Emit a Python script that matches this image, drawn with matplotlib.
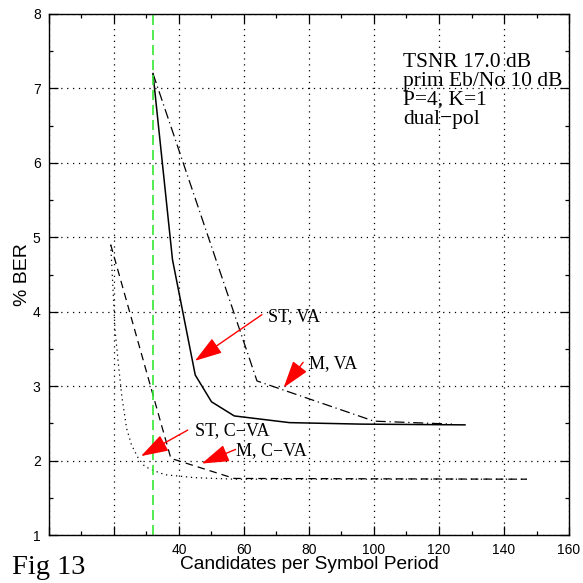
import matplotlib
matplotlib.use("Agg")
import matplotlib.pyplot as plt
from matplotlib.ticker import MultipleLocator

# ---- data ----
st_va_x = [32, 38, 45, 50, 57, 74, 96, 128]
st_va_y = [7.2, 4.7, 3.15, 2.79, 2.6, 2.51, 2.49, 2.48]

m_va_x = [32, 64, 100, 124]
m_va_y = [7.2, 3.07, 2.53, 2.49]

m_cva_x = [19, 37.5, 57, 147]
m_cva_y = [4.9, 2.03, 1.76, 1.75]

st_cva_x = [19, 19.8, 20.3, 21.3, 22.4, 23.9, 25.4, 27.5, 29.5, 32.6, 35.7, 45, 57, 147]
st_cva_y = [4.9, 4.22, 3.77, 3.32, 2.87, 2.43, 2.21, 2.03, 1.92, 1.86, 1.81, 1.77, 1.75, 1.75]

ref_x = 32

x_ticks = [0, 20, 40, 60, 80, 100, 120, 140, 160]
x_tick_labels = ["", "", "40", "60", "80", "100", "120", "140", "160"]
y_ticks = [1, 2, 3, 4, 5, 6, 7, 8]
y_tick_labels = ["1", "2", "3", "4", "5", "6", "7", "8"]

info_lines = ["TSNR 17.0 dB", "prim Eb/No 10 dB", "P=4, K=1", "dual\u2212pol"]

# annotations: label, text position, arrow tail, arrow tip
ann_labels = ["ST, VA", "M, VA", "ST, C\u2212VA", "M, C\u2212VA"]
ann_text_xy = [(67.4, 3.93), (80.0, 3.30), (44.8, 2.40), (57.6, 2.13)]
ann_tail_xy = [(65.5, 3.96), (78.2, 3.32), (42.7, 2.41), (57.4, 2.15)]
ann_tip_xy = [(44.9, 3.34), (72.2, 2.98), (28.3, 2.06), (47.0, 1.96)]

# ---- figure ----
fig = plt.figure(figsize=(5.83, 5.83), dpi=100)
ax = fig.add_axes([0.084, 0.0823, 0.892, 0.8937])

sans = "Liberation Sans"
serif = "Liberation Serif"

ax.plot(st_va_x, st_va_y, color="black", lw=1.1, solid_joinstyle="miter")
ax.plot(m_va_x, m_va_y, color="black", lw=0.9, dashes=(8, 3, 1, 3))
ax.plot(m_cva_x, m_cva_y, color="black", lw=0.9, dashes=(6, 4))
ax.plot(st_cva_x, st_cva_y, color="black", lw=0.9, dashes=(1, 3))
ax.axvline(ref_x, color="#33e833", lw=1.2, dashes=(6, 3))

ax.set_xlim(0, 160)
ax.set_ylim(1, 8)
ax.set_xticks(x_ticks)
ax.set_xticklabels(x_tick_labels, fontfamily=sans, fontsize=10)
ax.set_yticks(y_ticks)
ax.set_yticklabels(y_tick_labels, fontfamily=sans, fontsize=10)
ax.xaxis.set_minor_locator(MultipleLocator(10))
ax.yaxis.set_minor_locator(MultipleLocator(0.5))
ax.tick_params(which="both", direction="in", top=True, right=True, width=0.9)
ax.tick_params(which="major", length=6.5, pad=6)
ax.tick_params(which="minor", length=3)

ax.grid(True, which="major", color="black", lw=0.9, dashes=(1, 3.7))
for s in ax.spines.values():
    s.set_linewidth(1.0)

ax.set_xlabel("Candidates per Symbol Period", fontfamily=sans, fontsize=13.8, labelpad=-1)
ax.set_ylabel("% BER", fontfamily=sans, fontsize=14, labelpad=1)

ax.text(109, 7.48, "\n".join(info_lines), fontfamily=serif, fontsize=15.5,
        va="top", ha="left", linespacing=1.0)

for lab, txy, tail, tip in zip(ann_labels, ann_text_xy, ann_tail_xy, ann_tip_xy):
    ax.annotate("", xy=tip, xytext=tail,
                arrowprops=dict(arrowstyle="-|>,head_length=1.0,head_width=0.32",
                                color="red", lw=1.0, mutation_scale=17,
                                shrinkA=0, shrinkB=0))
    ax.text(txy[0], txy[1], lab, fontfamily=serif, fontsize=13,
            va="center", ha="left")

fig.text(12 / 583, 1 - 567 / 583, "Fig 13", fontfamily=serif, fontsize=20.5,
         va="center", ha="left")

fig.savefig("out.png", dpi=100)
